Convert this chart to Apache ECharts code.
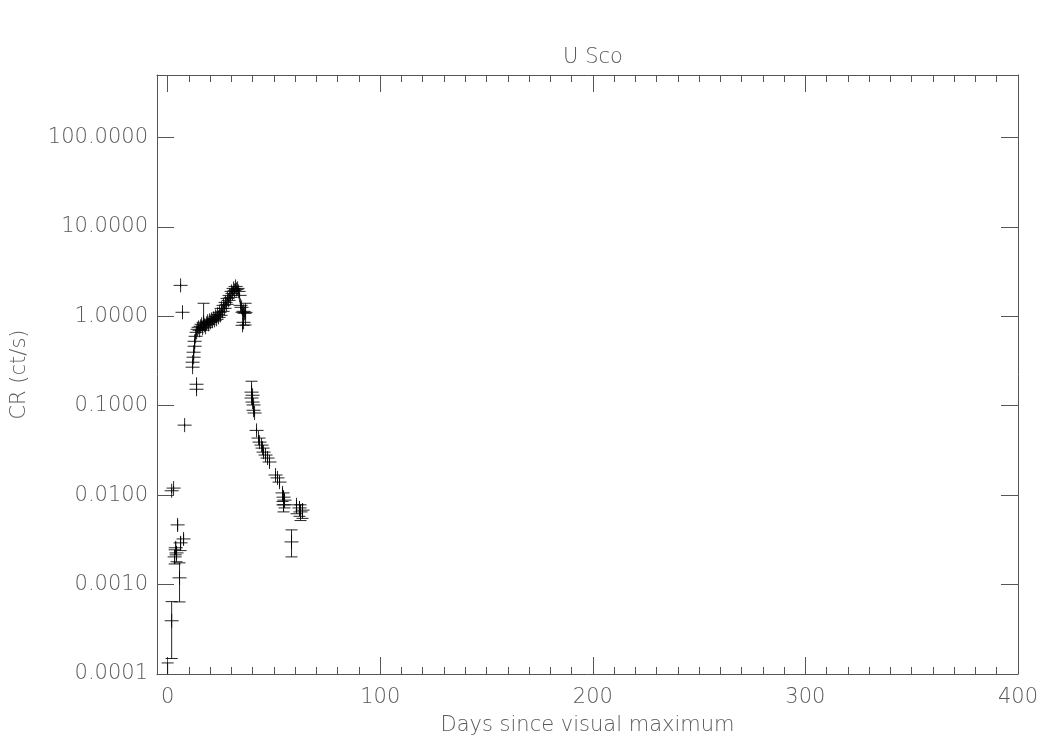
<!DOCTYPE html>
<html>
<head>
<meta charset="utf-8">
<script src="https://cdn.jsdelivr.net/npm/echarts@6/dist/echarts.min.js"></script>
<style>html,body{margin:0;padding:0;background:#fff}#c{width:1050px;height:750px}</style>
</head>
<body>
<div id="c"></div>
<script>
// Days since visual maximum
const days = [
  0.0, 1.9, 5.6, 3.3, 4.2, 3.8, 6.1, 7.5, 4.7, 1.9, 2.8, 8.0, 6.1, 7.0, 13.6, 13.6,
  11.75, 11.75, 12.22, 12.22, 12.69, 12.69, 13.16, 13.63, 14.10, 14.57, 15.04, 15.51, 15.98, 16.45,
  16.92, 17.39, 17.86, 18.33, 18.80, 19.27, 19.74, 20.21, 20.68, 21.15, 21.62, 22.09, 22.56, 23.03,
  23.50, 23.97, 24.44, 24.91, 25.38, 25.85, 26.32, 26.79, 27.26, 27.73, 28.20, 28.67, 29.14, 29.61,
  30.08, 30.55, 31.02, 31.49, 31.96, 32.43, 32.90, 33.37, 33.84, 34.31, 34.78, 35.25, 35.72, 36.19,
  36.66, 35.25, 35.72,
  39.48, 39.95, 39.48, 39.95, 40.42, 40.42, 40.89, 41.83, 42.77, 43.24, 44.18, 44.65, 45.12, 46.06,
  47.0, 47.94, 50.76, 51.70, 52.64, 54.05, 54.53, 54.99, 54.53, 60.63, 62.04, 62.51, 63.45, 58.28
];
// Count rate (ct/s)
const rates = [
  0.00005, 0.000394, 0.00119, 0.00204, 0.00226, 0.00258, 0.00293, 0.00324, 0.00465, 0.0112, 0.0120, 0.0607, 2.22, 1.11, 0.174, 0.153,
  0.270, 0.307, 0.349, 0.397, 0.463, 0.526, 0.598, 0.663, 0.716, 0.754, 0.698, 0.773, 0.814, 0.735,
  0.857, 0.794, 0.754, 0.835, 0.880, 0.814, 0.902, 0.857, 0.926, 0.880, 0.950, 0.902, 1.00, 0.926,
  1.053, 0.974, 1.108, 1.026, 1.228, 1.137, 1.327, 1.228, 1.433, 1.361, 1.588, 1.509, 1.715, 1.629,
  1.900, 1.805, 2.053, 1.95, 2.16, 2.0, 2.053, 1.900, 1.715, 1.327, 1.260, 1.108, 1.137, 1.080,
  1.108, 0.794, 0.857,
  0.142, 0.131, 0.122, 0.110, 0.102, 0.089, 0.083, 0.053, 0.0435, 0.0392, 0.0363, 0.0336, 0.0303, 0.0281,
  0.026, 0.0235, 0.0168, 0.0156, 0.0140, 0.0106, 0.0095, 0.0088, 0.0078, 0.0078, 0.0072, 0.0065, 0.0068, 0.0030
];
// Lower error bound
const ratesLo = [
  0.00002, 0.000149, 0.00064, 0.00170, 0.00180, 0.00215, 0.00240, 0.00280, 0.00400, 0.0105, 0.0112, 0.058, 2.12, 1.06, 0.160, 0.140,
  0.263, 0.285, 0.325, 0.370, 0.430, 0.490, 0.560, 0.620, 0.670, 0.705, 0.650, 0.720, 0.760, 0.690,
  0.700, 0.740, 0.700, 0.780, 0.820, 0.760, 0.840, 0.800, 0.860, 0.820, 0.890, 0.840, 0.930, 0.860,
  0.980, 0.910, 1.030, 0.950, 1.140, 1.060, 1.240, 1.140, 1.330, 1.270, 1.480, 1.400, 1.600, 1.520,
  1.780, 1.690, 1.920, 1.820, 2.020, 1.870, 1.920, 1.770, 1.600, 1.200, 1.150, 1.000, 1.040, 0.980,
  0.800, 0.720, 0.780,
  0.128, 0.121, 0.112, 0.101, 0.094, 0.082, 0.076, 0.049, 0.040, 0.036, 0.033, 0.031, 0.027, 0.025,
  0.023, 0.021, 0.0150, 0.0140, 0.0125, 0.0085, 0.0078, 0.0072, 0.0065, 0.0062, 0.0058, 0.0052, 0.0055, 0.00204
];
// Upper error bound
const ratesHi = [
  0.000133, 0.000645, 0.00175, 0.00245, 0.00270, 0.00300, 0.00345, 0.00370, 0.00530, 0.0119, 0.0128, 0.063, 2.32, 1.16, 0.188, 0.166,
  0.277, 0.330, 0.373, 0.425, 0.495, 0.562, 0.636, 0.705, 0.762, 0.803, 0.745, 0.825, 0.868, 0.780,
  1.400, 0.848, 0.808, 0.890, 0.940, 0.868, 0.964, 0.914, 0.992, 0.940, 1.010, 0.964, 1.070, 0.992,
  1.126, 1.038, 1.186, 1.100, 1.316, 1.214, 1.414, 1.316, 1.536, 1.452, 1.696, 1.618, 1.830, 1.738,
  2.020, 1.920, 2.186, 2.080, 2.300, 2.130, 2.186, 2.030, 1.830, 1.454, 1.370, 1.216, 1.234, 1.180,
  1.400, 0.868, 0.936,
  0.188, 0.141, 0.132, 0.119, 0.110, 0.096, 0.090, 0.057, 0.047, 0.042, 0.039, 0.036, 0.033, 0.031,
  0.029, 0.026, 0.0185, 0.0172, 0.0155, 0.0120, 0.0112, 0.0104, 0.0091, 0.0088, 0.0086, 0.0078, 0.0081, 0.00409
];
const xMajorTicks = [0, 100, 200, 300, 400];
const xMinorTicks = [10,20,30,40,50,60,70,80,90,110,120,130,140,150,160,170,180,190,
  210,220,230,240,250,260,270,280,290,310,320,330,340,350,360,370,380,390];

const points = days.map((d, i) => [d, rates[i], ratesLo[i], ratesHi[i]]);

const FONT = 'DejaVu Sans';
const TXT = '#5a5a5a';
const LINE = '#555';
const FS = 21;

const chart = echarts.init(document.getElementById('c'), null, {renderer: 'canvas'});

function xAxisDef(pos, ticks, len, showLine, showLabel, name) {
  return {
    type: 'value', position: pos, min: -5, max: 400,
    name: name || '', nameLocation: 'middle', nameGap: 41,
    nameTextStyle: {color: TXT, fontFamily: FONT, fontSize: FS, fontWeight: 200},
    axisLine: {show: showLine, onZero: false, lineStyle: {color: LINE, width: 1}},
    axisTick: {show: true, inside: true, length: len, customValues: ticks, lineStyle: {color: LINE}},
    axisLabel: {show: showLabel, customValues: ticks, margin: 13, color: TXT, fontFamily: FONT, fontSize: FS, fontWeight: 200},
    splitLine: {show: false}
  };
}
function yAxisDef(pos, showLabel, name) {
  return {
    type: 'log', logBase: 10, position: pos, min: 0.0001, max: 500, interval: 1,
    name: name || '', nameLocation: 'middle', nameGap: 127,
    nameTextStyle: {color: TXT, fontFamily: FONT, fontSize: FS, fontWeight: 200},
    axisLine: {show: true, onZero: false, lineStyle: {color: LINE, width: 1}},
    axisTick: {show: true, inside: true, length: 17, lineStyle: {color: LINE}},
    minorTick: {show: false},
    axisLabel: {
      show: showLabel, margin: 9, color: TXT, fontFamily: FONT, fontSize: FS, fontWeight: 200,
      formatter: function (v) {
        const l = Math.log10(v);
        if (Math.abs(l - Math.round(l)) > 1e-6) return '';
        return v.toFixed(4);
      }
    },
    splitLine: {show: false}
  };
}

chart.setOption({
  backgroundColor: '#fff',
  animation: false,
  title: {
    text: 'U Sco', left: 588, top: 42, textAlign: 'center',
    textStyle: {color: TXT, fontFamily: FONT, fontSize: FS, fontWeight: 200}
  },
  grid: {left: 157, right: 32, top: 75, bottom: 76, containLabel: false},
  xAxis: [
    xAxisDef('bottom', xMajorTicks, 17, true, true, 'Days since visual maximum'),
    xAxisDef('bottom', xMinorTicks, 7, false, false),
    xAxisDef('top', xMajorTicks, 17, true, false),
    xAxisDef('top', xMinorTicks, 7, false, false)
  ],
  yAxis: [
    yAxisDef('left', true, 'CR (ct/s)'),
    yAxisDef('right', false)
  ],
  series: [{
    type: 'custom',
    xAxisIndex: 0, yAxisIndex: 0,
    clip: true,
    data: points,
    renderItem: function (params, api) {
      const x = api.value(0), y = api.value(1), lo = api.value(2), hi = api.value(3);
      const c = api.coord([x, y]);
      const cl = api.coord([x, lo]);
      const ch = api.coord([x, hi]);
      const st = {stroke: '#000', lineWidth: 1, opacity: 0.85};
      const m = 7, cap = 6;
      const kids = [
        {type: 'line', shape: {x1: c[0] - m, y1: c[1], x2: c[0] + m, y2: c[1]}, style: st},
        {type: 'line', shape: {x1: c[0], y1: c[1] - m, x2: c[0], y2: c[1] + m}, style: st},
        {type: 'line', shape: {x1: c[0], y1: ch[1], x2: c[0], y2: cl[1]}, style: st}
      ];
      if (c[1] - ch[1] > m) kids.push({type: 'line', shape: {x1: c[0] - cap, y1: ch[1], x2: c[0] + cap, y2: ch[1]}, style: st});
      if (cl[1] - c[1] > m) kids.push({type: 'line', shape: {x1: c[0] - cap, y1: cl[1], x2: c[0] + cap, y2: cl[1]}, style: st});
      return {type: 'group', children: kids};
    }
  }]
});
</script>
</body>
</html>
